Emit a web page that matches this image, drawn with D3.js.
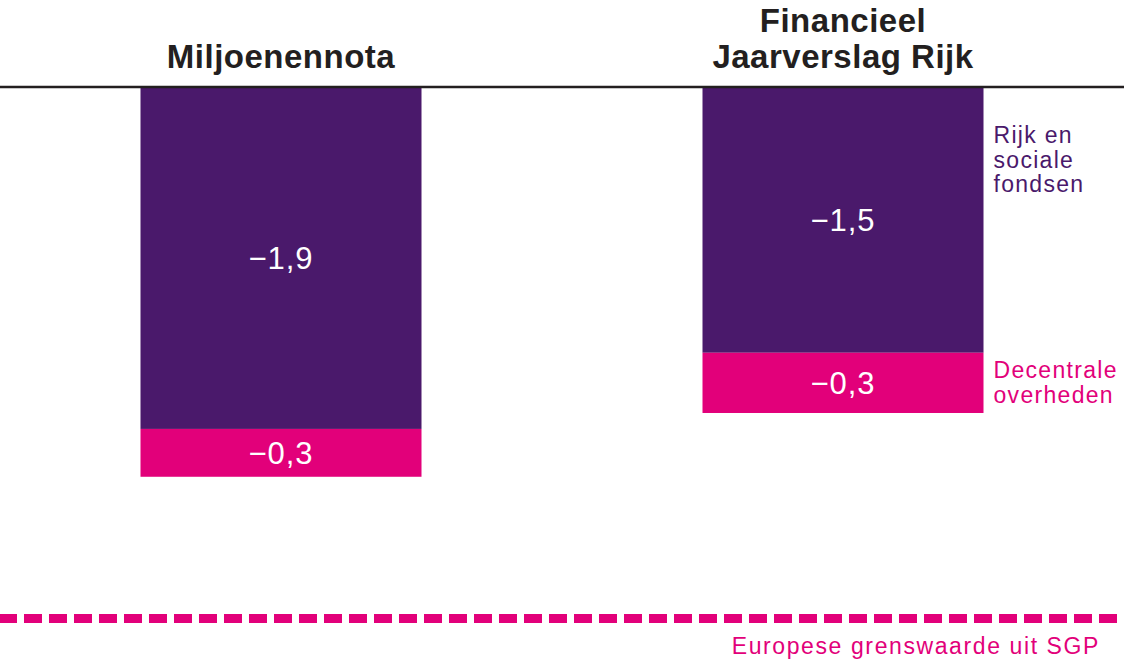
<!DOCTYPE html>
<html>
<head>
<meta charset="utf-8">
<script src="https://cdn.jsdelivr.net/npm/d3@7"></script>
<style>
  body { margin: 0; background: #fff; }
  svg { display: block; font-family: "Liberation Sans", Arial, sans-serif; }
</style>
</head>
<body>
<svg></svg>
<script>
var width = 1124,
    height = 663;

// data
var categories = ["Miljoenennota", "Financieel Jaarverslag Rijk"];
var titleLines = [["Miljoenennota"], ["Financieel", "Jaarverslag Rijk"]];
var seriesNames = ["Rijk en sociale fondsen", "Decentrale overheden"];
var seriesLines = [["Rijk en", "sociale", "fondsen"], ["Decentrale", "overheden"]];
var rijk = [-1.93, -1.5];
var decentraal = [-0.27, -0.34];
var limit = -3.0;
var limitLabel = "Europese grenswaarde uit SGP";

var colors = ["#4a196b", "#e2007a"];

var rows = categories.map(function (c, i) {
    return { cat: c, s0: rijk[i], s1: decentraal[i] };
});

var svg = d3.select("svg")
    .attr("width", width)
    .attr("height", height);

var x = d3.scaleBand()
    .domain(categories)
    .range([0, width])
    .paddingInner(0.5)
    .paddingOuter(0.25);

var y = d3.scaleLinear()
    .domain([0, -3])
    .range([87, 618.5]);

var stack = d3.stack()
    .keys(["s0", "s1"])
    .offset(d3.stackOffsetDiverging);

var layers = stack(rows);

var fmt = function (v) {
    return "\u2212" + d3.format(".1f")(Math.abs(v)).replace(".", ",");
};

// bars
var layer = svg.append("g")
    .selectAll("g")
    .data(layers)
    .enter()
    .append("g")
    .attr("fill", function (d, i) { return colors[i]; });

layer.selectAll("rect")
    .data(function (d) { return d; })
    .enter()
    .append("rect")
    .attr("x", function (d) { return x(d.data.cat); })
    .attr("width", x.bandwidth())
    .attr("y", function (d) { return y(d[1]); })
    .attr("height", function (d) { return y(d[0]) - y(d[1]); });

layer.selectAll("text")
    .data(function (d) { return d; })
    .enter()
    .append("text")
    .attr("x", function (d) { return x(d.data.cat) + x.bandwidth() / 2; })
    .attr("y", function (d) { return (y(d[0]) + y(d[1])) / 2; })
    .attr("dy", "0.36em")
    .attr("text-anchor", "middle")
    .attr("fill", "#fff")
    .style("font-size", "31px")
    .style("letter-spacing", "1px")
    .text(function (d) { return fmt(d[0] - d[1]); });

// baseline
svg.append("line")
    .attr("x1", 0)
    .attr("x2", width)
    .attr("y1", y(0))
    .attr("y2", y(0))
    .attr("stroke", "#231f20")
    .attr("stroke-width", 2.5);

// column titles
svg.append("g")
    .selectAll("text")
    .data(categories)
    .enter()
    .append("text")
    .attr("x", function (d) { return x(d) + x.bandwidth() / 2; })
    .attr("y", 0)
    .attr("text-anchor", "middle")
    .attr("fill", "#231f20")
    .style("font-size", "33px")
    .style("font-weight", "bold")
    .style("letter-spacing", "0.5px")
    .each(function (d, i) {
        var lines = titleLines[i];
        var t = d3.select(this);
        lines.forEach(function (l, j) {
            t.append("tspan")
                .attr("x", x(d) + x.bandwidth() / 2)
                .attr("y", 68 - (lines.length - 1 - j) * 36)
                .text(l);
        });
    });

// series labels next to last bar
var last = categories[categories.length - 1];
var labelX = x(last) + x.bandwidth() + 10;
layers.forEach(function (lay, i) {
    var d = lay[lay.length - 1];
    var lines = seriesLines[i];
    var top;
    if (i === 0) {
        top = y(d[1]) + 56;
    } else {
        top = (y(d[0]) + y(d[1])) / 2 + 8 - (lines.length - 1) * 25 / 2;
    }
    var t = svg.append("text")
        .attr("fill", colors[i])
        .style("font-size", "23px")
        .style("letter-spacing", "1.3px");
    lines.forEach(function (l, j) {
        t.append("tspan")
            .attr("x", labelX)
            .attr("y", top + j * 24.5)
            .text(l);
    });
});

// EU limit
svg.append("line")
    .attr("x1", 0)
    .attr("x2", 1118)
    .attr("y1", y(limit))
    .attr("y2", y(limit))
    .attr("stroke", colors[1])
    .attr("stroke-width", 9)
    .attr("stroke-dasharray", "18,7")
    .attr("stroke-dashoffset", 1);

svg.append("text")
    .attr("x", 1100)
    .attr("y", y(limit) + 35)
    .attr("text-anchor", "end")
    .attr("fill", colors[1])
    .style("font-size", "23px")
    .style("letter-spacing", "1.6px")
    .text(limitLabel);
</script>
</body>
</html>
